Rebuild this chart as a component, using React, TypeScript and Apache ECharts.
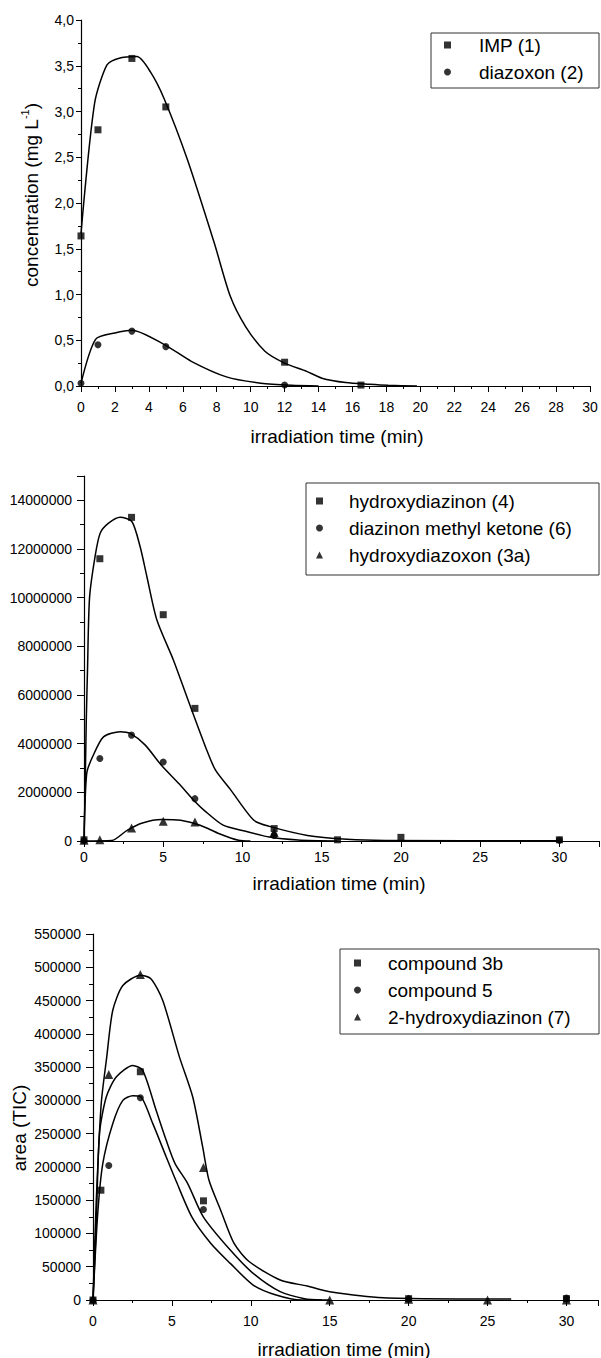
import React, { useEffect, useRef } from "react";
import * as echarts from "echarts";

const FONT = '"Liberation Sans", Arial, Helvetica, sans-serif';

// ---------- Panel 1 : concentration (mg L-1) ----------
const p1Names = ["IMP (1)", "diazoxon (2)"];
const p1IMP = [[0, 1.64], [1, 2.8], [3, 3.58], [5, 3.05], [12, 0.26], [16.5, 0.01]];
const p1Diazoxon = [[0, 0.03], [1, 0.45], [3, 0.6], [5, 0.43], [12, 0.01]];
const p1IMPFit = [
  [0, 1.67], [0.8, 3.09], [1.53, 3.51], [2.2, 3.58], [3.3, 3.6], [4.1, 3.43], [4.9, 3.14],
  [6.28, 2.47], [7.86, 1.56], [8.8, 0.98], [9.7, 0.65], [10.84, 0.38], [12, 0.25],
  [13.3, 0.16], [14.2, 0.085], [15.6, 0.037], [17, 0.018], [18.1, 0.007], [19.8, 0],
];
const p1DiazoxonFit = [
  [0, 0.03], [0.86, 0.51], [2.0, 0.58], [3.0, 0.61], [4.94, 0.45], [6.5, 0.27],
  [8.57, 0.1], [10.6, 0.03], [12.4, 0.007], [14, 0],
];

// ---------- Panel 2 : peak area ----------
const p2Names = ["hydroxydiazinon (4)", "diazinon methyl ketone (6)", "hydroxydiazoxon (3a)"];
const p2Hydroxydiazinon = [[0, 0.05e6], [1, 11.6e6], [3, 13.3e6], [5, 9.3e6], [7, 5.45e6], [12, 0.51e6], [16, 0.05e6], [20, 0.15e6], [30, 0.05e6]];
const p2MethylKetone = [[0, 0.02e6], [1, 3.39e6], [3, 4.35e6], [5, 3.25e6], [7, 1.74e6], [12, 0.23e6], [30, 0.03e6]];
const p2Hydroxydiazoxon = [[0, 0.03e6], [1, 0.05e6], [3, 0.53e6], [5, 0.81e6], [7, 0.78e6], [12, 0.35e6]];
const p2HydroxydiazinonFit = [
  [0, 0], [0.08, 2.5e6], [0.14, 4.85e6], [0.22, 7.0e6], [0.35, 10.0e6], [0.7, 11.7e6],
  [1.02, 12.65e6], [1.55, 13.06e6], [2.28, 13.3e6], [3.02, 13.13e6], [3.54, 12.1e6],
  [3.97, 10.86e6], [4.6, 9.08e6], [5.64, 7.44e6], [6.49, 5.93e6], [7.75, 3.73e6],
  [8.3, 2.91e6], [9.27, 2.09e6], [10.72, 0.85e6], [11.7, 0.6e6], [14.1, 0.23e6],
  [16.6, 0.07e6], [19, 0.02e6], [30, 0.01e6],
];
const p2MethylKetoneFit = [
  [0, 0], [0.17, 2.77e6], [0.54, 3.46e6], [1.23, 4.28e6], [2.28, 4.49e6], [2.91, 4.42e6],
  [3.85, 3.95e6], [4.9, 3.1e6], [6.0, 2.35e6], [7.0, 1.62e6], [7.6, 1.25e6], [8.78, 0.65e6],
  [10.2, 0.4e6], [11.7, 0.16e6], [13.5, 0.04e6], [16, 0],
];
const p2HydroxydiazoxonFit = [
  [0, 0], [1.75, 0.02e6], [2.72, 0.44e6], [3.69, 0.74e6], [4.9, 0.88e6], [6.1, 0.85e6],
  [7.33, 0.65e6], [8.54, 0.3e6], [9.75, 0.03e6], [10.5, 0],
];

// ---------- Panel 3 : area (TIC) ----------
const p3Names = ["compound 3b", "compound 5", "2-hydroxydiazinon (7)"];
const p3Compound3b = [[0, 0], [0.5, 165e3], [3, 343e3], [7, 149e3], [20, 2e3], [30, 2e3]];
const p3Compound5 = [[0, 0], [1, 202e3], [3, 304e3], [7, 136e3], [20, 2e3], [30, 3e3]];
const p3Hydroxy7 = [[0, 0], [1, 339e3], [3, 489e3], [7, 199e3], [15, 0], [20, 1e3], [25, 0], [30, 0]];
const p3Compound3bFit = [
  [0, 0], [0.2, 110e3], [0.41, 250e3], [0.84, 305e3], [1.47, 335e3], [2.52, 352.5e3],
  [3.15, 345e3], [4.0, 285e3], [4.64, 240e3], [5.2, 205e3], [6.0, 175e3], [6.99, 125e3],
  [8.7, 75e3], [10.15, 40e3], [11.86, 12.5e3], [13.4, 2e3], [14.5, 0],
];
const p3Compound5Fit = [
  [0, 0], [0.3, 130e3], [0.62, 205e3], [1.25, 265e3], [1.89, 300e3], [2.52, 307e3],
  [3, 306e3], [3.79, 265e3], [4.64, 215e3], [5.28, 178e3], [6.26, 125e3], [7.47, 85e3],
  [8.7, 55e3], [10.15, 22.5e3], [11.6, 7.5e3], [13.2, 0], [15, 0],
];
const p3Hydroxy7Fit = [
  [0, 0], [0.2, 145e3], [0.52, 295e3], [0.87, 365e3], [1.25, 435e3], [1.89, 472.5e3],
  [3, 488e3], [3.68, 482.5e3], [4.42, 450e3], [5.48, 365e3], [6.32, 305e3], [6.95, 230e3],
  [7.35, 180e3], [8.09, 135e3], [8.94, 85e3], [9.91, 57.5e3], [11.86, 30e3], [13.56, 21e3],
  [15, 12.5e3], [18.4, 3.5e3], [26.5, 1.5e3],
];

const xTitle = "irradiation time (min)";

function axisBase(gridIndex: number, min: number, max: number, interval: number, tickLen: number, labelMargin: number, fmt: (v: number) => string, showMax: boolean) {
  return {
    type: "value",
    gridIndex,
    min,
    max,
    interval,
    axisLine: { show: true, onZero: false, lineStyle: { color: "#000", width: 1.2 } },
    axisTick: { show: true, length: tickLen, lineStyle: { color: "#000", width: 1 } },
    minorTick: { show: true, splitNumber: 2, length: Math.round(tickLen / 2), lineStyle: { color: "#000", width: 1 } },
    splitLine: { show: false },
    axisLabel: {
      show: true,
      margin: labelMargin,
      color: "#000",
      fontFamily: FONT,
      fontSize: 14,
      showMaxLabel: showMax,
      formatter: fmt,
    },
  };
}

function scatter(name: string, data: number[][], xi: number, symbol: string, size: number) {
  return {
    type: "scatter",
    name,
    data,
    xAxisIndex: xi,
    yAxisIndex: xi,
    symbol,
    symbolSize: size,
    itemStyle: { color: "#000" },
    z: 5,
    silent: true,
  };
}

function fit(data: number[][], xi: number) {
  return {
    type: "line",
    name: "fit" + xi + "_" + data.length + "_" + data[1][1],
    data,
    xAxisIndex: xi,
    yAxisIndex: xi,
    showSymbol: false,
    symbol: "none",
    smooth: 0.25,
    lineStyle: { color: "#000", width: 1.5 },
    itemStyle: { color: "#000" },
    z: 3,
    silent: true,
  };
}

function legendFor(names: string[], icons: string[], left: number, top: number, pad: number) {
  return {
    show: true,
    orient: "vertical",
    left,
    top,
    itemWidth: 7,
    itemHeight: 7,
    itemGap: 7,
    selectedMode: false,
    padding: 0,
    data: names.map((n, i) => ({ name: n, icon: icons[i] })),
    textStyle: { fontFamily: FONT, fontSize: 19, color: "#000", lineHeight: 20, padding: [0, 0, 0, pad] },
  };
}

function titleText(text: string, x: number, y: number, rotate = false, rich?: any) {
  return {
    type: "text",
    x,
    y,
    rotation: rotate ? Math.PI / 2 : 0,
    silent: true,
    style: {
      text,
      fill: "#000",
      font: `19px ${FONT}`,
      align: "center",
      verticalAlign: "middle",
      rich,
    },
  };
}

export default function App() {
  const ref = useRef<HTMLDivElement>(null);
  useEffect(() => {
    if (!ref.current) return;
    const chart = echarts.init(ref.current, null, { renderer: "svg" });
    const intFmt = (v: number) => String(Math.round(v));
    const commaFmt = (v: number) => v.toFixed(1).replace(".", ",");
    const option: any = {
      animation: false,
      backgroundColor: "#fff",
      grid: [
        { left: 81, top: 20, width: 509, height: 366 },
        { left: 84, top: 476, width: 515, height: 365 },
        { left: 93, top: 934, width: 505, height: 366 },
      ],
      xAxis: [
        axisBase(0, 0, 30, 2, 6, 14, intFmt, true),
        axisBase(1, 0, 32.5, 5, 6, 9, intFmt, false),
        axisBase(2, 0, 32, 5, 6, 14, intFmt, false),
      ],
      yAxis: [
        axisBase(0, 0, 4, 0.5, 5, 7, commaFmt, true),
        axisBase(1, 0, 15e6, 2e6, 7, 12, intFmt, false),
        axisBase(2, 0, 550000, 50000, 7, 12, intFmt, true),
      ],
      legend: [
        legendFor(p1Names, ["rect", "circle"], 444, 35, 23),
        legendFor(p2Names, ["rect", "circle", "triangle"], 316, 491, 21),
        legendFor(p3Names, ["rect", "circle", "triangle"], 354, 953, 22),
      ],
      graphic: [
        { type: "rect", shape: { x: 431, y: 33, width: 168, height: 55 }, style: { fill: "none", stroke: "#333", lineWidth: 1 }, silent: true },
        { type: "rect", shape: { x: 306, y: 483, width: 293, height: 92 }, style: { fill: "none", stroke: "#333", lineWidth: 1 }, silent: true },
        { type: "rect", shape: { x: 340, y: 949, width: 259, height: 85 }, style: { fill: "none", stroke: "#333", lineWidth: 1 }, silent: true },
        titleText(xTitle, 337, 436),
        titleText(xTitle, 339, 883),
        titleText(xTitle, 344, 1349),
        titleText("{a|concentration (mg L}{s|-1}{a|)}", 30, 195, true, {
          a: { fontFamily: FONT, fontSize: 19, fill: "#000", verticalAlign: "bottom", lineHeight: 22 },
          s: { fontFamily: FONT, fontSize: 11, fill: "#000", verticalAlign: "top", lineHeight: 22 },
        }),
        titleText("area (TIC)", 19, 1128, true),
      ],
      series: [
        fit(p1IMPFit, 0),
        fit(p1DiazoxonFit, 0),
        scatter(p1Names[0], p1IMP, 0, "rect", 7),
        scatter(p1Names[1], p1Diazoxon, 0, "circle", 7),

        fit(p2HydroxydiazinonFit, 1),
        fit(p2MethylKetoneFit, 1),
        fit(p2HydroxydiazoxonFit, 1),
        scatter(p2Names[0], p2Hydroxydiazinon, 1, "rect", 7),
        scatter(p2Names[1], p2MethylKetone, 1, "circle", 7),
        scatter(p2Names[2], p2Hydroxydiazoxon, 1, "triangle", 9),

        fit(p3Compound3bFit, 2),
        fit(p3Compound5Fit, 2),
        fit(p3Hydroxy7Fit, 2),
        scatter(p3Names[0], p3Compound3b, 2, "rect", 7),
        scatter(p3Names[1], p3Compound5, 2, "circle", 7),
        scatter(p3Names[2], p3Hydroxy7, 2, "triangle", 9),
      ],
    };
    chart.setOption(option);
    return () => chart.dispose();
  }, []);
  return (
    <div
      ref={ref}
      style={{ position: "absolute", left: 0, top: 0, width: 601, height: 1358, background: "#fff" }}
    />
  );
}
